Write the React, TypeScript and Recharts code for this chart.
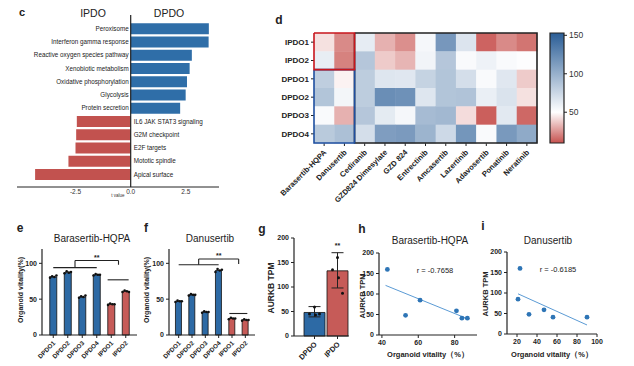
import React from "react";
import {
  Bar,
  BarChart,
  Cell,
  ComposedChart,
  ErrorBar,
  LabelList,
  ReferenceDot,
  ReferenceLine,
  Scatter,
  ScatterChart,
  XAxis,
  YAxis,
} from "recharts";

const FONT = '"Liberation Sans", Arial, Helvetica, sans-serif';
const BLUE = "#2D6AA5";
const RED = "#C65B58";
const INK = "#222";

// c: hallmark pathways, t value
const pathways = [
  "Peroxisome",
  "Interferon gamma response",
  "Reactive oxygen species pathway",
  "Xenobiotic metabolism",
  "Oxidative phosphorylation",
  "Glycolysis",
  "Protein secretion",
  "IL6 JAK STAT3 signaling",
  "G2M checkpoint",
  "E2F targets",
  "Mototic spindle",
  "Apical surface",
];
const tValues = [3.54, 3.53, 2.77, 2.67, 2.55, 2.49, 2.24, -2.44, -2.47, -2.5, -2.82, -4.33];
const tTicks = [-2.5, 0, 2.5];

// d: drug screen heatmap
const drugs = [
  "Barasertib-HQPA",
  "Danusertib",
  "Cediranib",
  "GZD824 Dimesylate",
  "GZD 824",
  "Entrectinib",
  "Amcasertib",
  "Lazertinib",
  "Adavosertib",
  "Ponatinib",
  "Neratinib",
];
const organoids = ["IPDO1", "IPDO2", "DPDO1", "DPDO2", "DPDO3", "DPDO4"];
const ipdo1 = [43, 23, 62, 32, 24, 55, 116, 67, 14, 23, 18];
const ipdo2 = [61, 21, 86, 38, 33, 57, 86, 53, 58, 53, 51];
const dpdo1 = [81, 47, 82, 66, 65, 78, 87, 71, 53, 65, 38];
const dpdo2 = [87, 56, 82, 122, 120, 66, 87, 88, 60, 68, 43];
const dpdo3 = [53, 32, 86, 63, 55, 93, 95, 42, 13, 64, 15];
const dpdo4 = [84, 90, 71, 112, 114, 98, 74, 117, 53, 115, 104];
const heatRows = [ipdo1, ipdo2, dpdo1, dpdo2, dpdo3, dpdo4];
const colorRange = [10, 153];
const colorMid = 50;
const colorTicks = [50, 100, 150];
// highlighted blocks: [first col, last col, first row, last row]
const otherBlock = [2, 10, 0, 5];
const dpdoBlock = [0, 1, 2, 5];
const ipdoBlock = [0, 1, 0, 1];

// e / f: organoid vitality
const lines = ["DPDO1", "DPDO2", "DPDO3", "DPDO4", "IPDO1", "IPDO2"];
const barasertibMean = [81, 87, 53, 84, 43, 61];
const barasertibReps = [
  [80, 82, 81, 83],
  [86, 89, 87, 88],
  [52, 54, 53, 55],
  [83, 85, 84, 84],
  [42, 44, 43, 43],
  [60, 62, 61, 60],
];
const danusertibMean = [47, 56, 32, 90, 23, 21];
const danusertibReps = [
  [46, 48, 47, 47],
  [55, 57, 56, 56],
  [31, 33, 32, 32],
  [88, 92, 90, 91],
  [22, 24, 23, 23],
  [20, 22, 21, 21],
];
const vitalityTicks = [0, 50, 100];

// g: AURKB expression
const groups = ["DPDO", "IPDO"];
const aurkbMean = [48, 133];
const aurkbErr = [[9, 12], [35, 37]];
const aurkbDpdo = [59, 45, 43, 45];
const aurkbIpdo = [160, 135, 119, 87];
const tpmTicks = [0, 50, 100, 150, 200];

// h / i: AURKB TPM per line (DPDO1-4, IPDO1-2)
const aurkbByLine = [59, 41, 48, 41, 160, 85];
const barasertibFit = [{ x: 42, y: 121 }, { x: 88, y: 38 }];
const danusertibFit = [{ x: 21, y: 98 }, { x: 90, y: 22 }];

function mix(a: number[], b: number[], t: number) {
  const c = a.map((v, i) => Math.round(v + (b[i] - v) * t));
  return `rgb(${c[0]},${c[1]},${c[2]})`;
}
const WHITE = [255, 255, 255];
const LOW = [199, 82, 79];
const HIGH = [42, 93, 150];
function heatColor(v: number) {
  if (v <= colorMid) return mix(WHITE, LOW, Math.min(1, (colorMid - v) / (colorMid - colorRange[0])));
  return mix(WHITE, HIGH, Math.min(1, (v - colorMid) / (colorRange[1] - colorMid)));
}

// outline of a block of cells, as a closed path in cell coordinates
function blockOutline(b: number[]) {
  const [c0, c1, r0, r1] = b;
  return [
    { c: c0 - 0.5, r: r0 - 0.5 },
    { c: c1 + 0.5, r: r0 - 0.5 },
    { c: c1 + 0.5, r: r1 + 0.5 },
    { c: c0 - 0.5, r: r1 + 0.5 },
    { c: c0 - 0.5, r: r0 - 0.5 },
  ];
}

const Txt = ({ x, y, size, bold, rotate, children }: any) => (
  <div
    style={{
      position: "absolute",
      left: x,
      top: y,
      transform: `translate(-50%, -50%)${rotate ? " rotate(-90deg)" : ""}`,
      fontSize: size,
      fontWeight: bold ? 700 : 400,
      color: INK,
      whiteSpace: "nowrap",
      lineHeight: 1,
    }}
  >
    {children}
  </div>
);

const boldTick = { fontSize: 7, fontWeight: 700, fill: INK };

function RotTick({ x, y, payload, labels, size, dx = 1, dy = 3 }: any) {
  const text = labels ? labels[payload.value] : payload.value;
  const ax = x + dx;
  const ay = y + dy;
  return (
    <text
      x={ax}
      y={ay}
      dy="0.35em"
      transform={`rotate(-45 ${ax} ${ay})`}
      textAnchor="end"
      fontSize={size}
      fontWeight={700}
      fill={INK}
    >
      {text}
    </text>
  );
}

function PathLabel(p: any) {
  const { x, y, width, height, index } = p;
  const v = tValues[index];
  const zeroX = v >= 0 ? Math.min(x, x + width) : Math.max(x, x + width);
  return (
    <text
      x={v >= 0 ? zeroX - 2 : zeroX + 3}
      y={y + height / 2}
      dy="0.35em"
      textAnchor={v >= 0 ? "end" : "start"}
      fontSize={6.3}
      fill={INK}
    >
      {pathways[index]}
    </text>
  );
}

function PathwayPanel() {
  const data = pathways.map((name, i) => ({ name, t: tValues[i] }));
  return (
    <div style={{ position: "absolute", left: 0, top: 0 }}>
      <BarChart
        width={230}
        height={205}
        data={data}
        layout="vertical"
        margin={{ top: 15, right: 11, left: 17, bottom: 4 }}
        barCategoryGap="9%"
      >
        <XAxis
          type="number"
          domain={[-5.15, 4]}
          ticks={tTicks}
          tickFormatter={(v) => Number(v).toFixed(1)}
          tickLine={false}
          tickSize={1}
          tickMargin={1}
          height={14}
          axisLine={{ stroke: INK }}
          tick={{ fontSize: 6.5, fill: "#333" }}
          label={{ value: "t value", position: "bottom", offset: -7, fontSize: 4.5, fill: "#333" }}
        />
        <YAxis type="category" dataKey="name" hide padding={{ top: 7, bottom: 6 }} />
        <Bar dataKey="t" isAnimationActive={false}>
          {data.map((d, i) => (
            <Cell key={i} fill={d.t >= 0 ? "#2F6EA8" : "#C2524F"} />
          ))}
          <LabelList dataKey="name" content={PathLabel} />
        </Bar>
        <ReferenceLine x={0} stroke={INK} strokeWidth={1.2} />
      </BarChart>
    </div>
  );
}

const CW = 223 / drugs.length;
const CH = 110 / organoids.length;

function HeatCell(p: any) {
  return (
    <rect
      x={p.cx - CW / 2}
      y={p.cy - CH / 2}
      width={CW + 0.4}
      height={CH + 0.4}
      fill={heatColor(p.payload.v)}
    />
  );
}

const noDot = () => <g />;

function HeatmapPanel() {
  const cells = heatRows.flatMap((row, r) => row.map((v, c) => ({ c, r, v })));
  const colorbar = [{ name: "scale", range: colorRange }];
  const midStop = (colorMid - colorRange[0]) / (colorRange[1] - colorRange[0]);
  return (
    <>
      <div style={{ position: "absolute", left: 258, top: 0 }}>
        <ScatterChart width={282} height={210} margin={{ top: 33, right: 3, left: 0, bottom: 2 }}>
          <XAxis
            type="number"
            dataKey="c"
            domain={[-0.5, drugs.length - 0.5]}
            ticks={drugs.map((_, i) => i)}
            interval={0}
            height={65}
            tickSize={3}
            axisLine={false}
            tickLine={{ stroke: INK }}
            tick={<RotTick labels={drugs} size={7.6} dx={1} dy={3} />}
          />
          <YAxis
            type="number"
            dataKey="r"
            domain={[-0.5, organoids.length - 0.5]}
            reversed
            ticks={organoids.map((_, i) => i)}
            interval={0}
            tickFormatter={(i) => organoids[i]}
            width={56}
            tickSize={3}
            axisLine={false}
            tickLine={{ stroke: INK }}
            tick={{ fontSize: 8, fontWeight: 700, fill: INK }}
          />
          <Scatter data={cells} shape={HeatCell} isAnimationActive={false} />
          <Scatter
            data={blockOutline(otherBlock)}
            line={{ stroke: INK, strokeWidth: 1.6 }}
            shape={noDot}
            isAnimationActive={false}
          />
          <Scatter
            data={blockOutline(dpdoBlock)}
            line={{ stroke: "#1F4FA0", strokeWidth: 1.6 }}
            shape={noDot}
            isAnimationActive={false}
          />
          <Scatter
            data={blockOutline(ipdoBlock)}
            line={{ stroke: "#C8161D", strokeWidth: 1.6 }}
            shape={noDot}
            isAnimationActive={false}
          />
        </ScatterChart>
      </div>
      <div style={{ position: "absolute", left: 540, top: 0 }}>
        <BarChart width={60} height={160} data={colorbar} margin={{ top: 33, right: 0, left: 10, bottom: 17 }} barCategoryGap={0}>
          <defs>
            <linearGradient id="heatGrad" x1="0" y1="1" x2="0" y2="0">
              <stop offset="0" stopColor={heatColor(colorRange[0])} />
              <stop offset={midStop} stopColor="#ffffff" />
              <stop offset="1" stopColor={heatColor(colorRange[1])} />
            </linearGradient>
          </defs>
          <XAxis dataKey="name" hide />
          <YAxis
            orientation="right"
            type="number"
            domain={colorRange}
            ticks={colorTicks}
            width={36}
            tickSize={3}
            axisLine={false}
            tickLine={{ stroke: INK }}
            tick={{ fontSize: 8.5, fill: "#333" }}
          />
          <Bar dataKey="range" fill="url(#heatGrad)" stroke={INK} strokeWidth={1.2} isAnimationActive={false} />
        </BarChart>
      </div>
    </>
  );
}

const repOffsets = [-3.2, -1.1, 1.1, 3.2];

function VitalityPanel({ means, reps, segs, star, left, width, yW, padX, plotRight }: any) {
  const data = lines.map((name, i) => ({
    name,
    idx: i,
    mean: means[i],
    r0: reps[i][0],
    r1: reps[i][1],
    r2: reps[i][2],
    r3: reps[i][3],
  }));
  return (
    <div style={{ position: "absolute", left, top: 225 }}>
      <ComposedChart
        width={width}
        height={141}
        data={data}
        margin={{ top: 24, right: width - (plotRight - left), left: 0, bottom: 3 }}
        barCategoryGap="26%"
      >
        <XAxis
          xAxisId="cat"
          dataKey="name"
          type="category"
          padding={{ left: padX, right: padX }}
          height={28}
          interval={0}
          tickSize={3}
          axisLine={{ stroke: INK, strokeWidth: 1.2 }}
          tickLine={{ stroke: INK }}
          tick={<RotTick size={6.3} dx={1} dy={2} />}
        />
        <XAxis xAxisId="num" dataKey="idx" type="number" domain={[-0.5, 5.5]} padding={{ left: padX, right: padX }} hide />
        <XAxis
          xAxisId="top"
          orientation="top"
          type="number"
          domain={[0, 1]}
          height={0}
          tick={false}
          tickLine={false}
          axisLine={{ stroke: INK, strokeWidth: 1.2 }}
        />
        <YAxis
          yAxisId="v"
          type="number"
          domain={[0, 120]}
          ticks={vitalityTicks}
          width={yW}
          tickSize={3}
          axisLine={{ stroke: INK, strokeWidth: 1.2 }}
          tickLine={{ stroke: INK }}
          tick={boldTick}
        />
        <YAxis
          yAxisId="frame"
          orientation="right"
          type="number"
          domain={[0, 1]}
          width={0}
          tick={false}
          tickLine={false}
          axisLine={{ stroke: INK, strokeWidth: 1.2 }}
        />
        <Bar xAxisId="cat" yAxisId="v" dataKey="mean" stroke="#111" strokeWidth={0.8} isAnimationActive={false}>
          {data.map((d, i) => (
            <Cell key={i} fill={d.name.startsWith("IPDO") ? RED : BLUE} />
          ))}
        </Bar>
        {["r0", "r1", "r2", "r3"].map((k, j) => (
          <Scatter
            key={k}
            xAxisId="num"
            yAxisId="v"
            dataKey={k}
            isAnimationActive={false}
            shape={(p: any) => <circle cx={p.cx + repOffsets[j]} cy={p.cy} r={1.3} fill="#111" />}
          />
        ))}
        {segs.map((s: number[], i: number) => (
          <ReferenceLine
            key={i}
            xAxisId="num"
            yAxisId="v"
            segment={[{ x: s[0], y: s[1] }, { x: s[2], y: s[3] }]}
            stroke={INK}
            strokeWidth={1.1}
          />
        ))}
        <ReferenceDot
          xAxisId="num"
          yAxisId="v"
          x={star[0]}
          y={star[1]}
          r={0}
          fill="none"
          stroke="none"
          label={{ value: "**", position: "center", fontSize: 7, fontWeight: 700, fill: INK }}
        />
      </ComposedChart>
    </div>
  );
}

const barasertibSegs = [
  [0, 94, 3, 94],
  [1.5, 104, 4.5, 104],
  [1.5, 104, 1.5, 94],
  [4.5, 104, 4.5, 98],
  [3.75, 77, 5.2, 77],
];
const danusertibSegs = [
  [0, 98, 3, 98],
  [1.5, 106, 4.5, 106],
  [1.5, 106, 1.5, 98],
  [4.5, 106, 4.5, 99],
  [3.8, 30, 5.15, 30],
];

const dotJitter = [0, -5, 1, 5];

function AurkbPanel() {
  const data = groups.map((name, i) => ({ name, idx: i, mean: aurkbMean[i], err: aurkbErr[i] }));
  const dots = [
    ...aurkbDpdo.map((v, j) => ({ idx: 0, v, j })),
    ...aurkbIpdo.map((v, j) => ({ idx: 1, v, j })),
  ];
  return (
    <div style={{ position: "absolute", left: 262, top: 220 }}>
      <ComposedChart width={95} height={146} data={data} margin={{ top: 18, right: 8, left: 0, bottom: 2 }}>
        <XAxis
          xAxisId="cat"
          dataKey="name"
          type="category"
          padding={{ left: 9, right: 0 }}
          height={28}
          interval={0}
          tickSize={3}
          axisLine={{ stroke: INK, strokeWidth: 1.2 }}
          tickLine={{ stroke: INK }}
          tick={<RotTick size={7.5} dx={1} dy={2} />}
        />
        <XAxis xAxisId="num" dataKey="idx" type="number" domain={[-0.5, 1.5]} padding={{ left: 9, right: 0 }} hide />
        <XAxis
          xAxisId="top"
          orientation="top"
          type="number"
          domain={[0, 1]}
          height={0}
          tick={false}
          tickLine={false}
          axisLine={{ stroke: INK, strokeWidth: 1.2 }}
        />
        <YAxis
          yAxisId="v"
          type="number"
          domain={[0, 200]}
          ticks={tpmTicks}
          width={32}
          tickSize={3}
          axisLine={{ stroke: INK, strokeWidth: 1.2 }}
          tickLine={{ stroke: INK }}
          tick={boldTick}
        />
        <YAxis
          yAxisId="frame"
          orientation="right"
          type="number"
          domain={[0, 1]}
          width={0}
          tick={false}
          tickLine={false}
          axisLine={{ stroke: INK, strokeWidth: 1.2 }}
        />
        <Bar xAxisId="cat" yAxisId="v" dataKey="mean" barSize={21} stroke="#111" strokeWidth={0.8} isAnimationActive={false}>
          {data.map((d, i) => (
            <Cell key={i} fill={i === 0 ? BLUE : RED} />
          ))}
          <ErrorBar dataKey="err" width={6} stroke={INK} strokeWidth={1} direction="y" />
        </Bar>
        <Scatter
          xAxisId="num"
          yAxisId="v"
          data={dots}
          dataKey="v"
          isAnimationActive={false}
          shape={(p: any) => <circle cx={p.cx + dotJitter[p.payload.j]} cy={p.cy} r={1.5} fill="#111" />}
        />
        <ReferenceDot
          xAxisId="num"
          yAxisId="v"
          x={1}
          y={184}
          r={0}
          fill="none"
          stroke="none"
          label={{ value: "**", position: "center", fontSize: 7, fontWeight: 700, fill: INK }}
        />
      </ComposedChart>
    </div>
  );
}

function CorrPanel({ vit, fit, domain, ticks, left, width, yW, right, top }: any) {
  const pts = lines.map((name, i) => ({ name, x: vit[i], y: aurkbByLine[i] }));
  return (
    <div style={{ position: "absolute", left, top: 230 }}>
      <ScatterChart width={width} height={136} margin={{ top, right, left: 0, bottom: 136 - top - 82 - 14 }}>
        <XAxis
          type="number"
          dataKey="x"
          domain={domain}
          ticks={ticks}
          height={14}
          tickSize={3}
          axisLine={{ stroke: INK, strokeWidth: 1.2 }}
          tickLine={{ stroke: INK }}
          tick={boldTick}
        />
        <YAxis
          type="number"
          dataKey="y"
          domain={[0, 200]}
          ticks={tpmTicks}
          width={yW}
          tickSize={3}
          axisLine={{ stroke: INK, strokeWidth: 1.2 }}
          tickLine={{ stroke: INK }}
          tick={boldTick}
        />
        <Scatter data={fit} line={{ stroke: "#5B9BD5", strokeWidth: 1 }} shape={noDot} isAnimationActive={false} />
        <Scatter data={pts} isAnimationActive={false} shape={(p: any) => <circle cx={p.cx} cy={p.cy} r={2.4} fill="#2E75B6" />} />
      </ScatterChart>
    </div>
  );
}

export default function App() {
  return (
    <div
      style={{
        position: "absolute",
        left: 0,
        top: 0,
        width: 634,
        height: 366,
        background: "#fff",
        overflow: "hidden",
        fontFamily: FONT,
      }}
    >
      <PathwayPanel />
      <HeatmapPanel />
      <VitalityPanel
        means={barasertibMean}
        reps={barasertibReps}
        segs={barasertibSegs}
        star={[3, 108]}
        left={0}
        width={145}
        yW={42}
        padX={4}
        plotRight={137}
      />
      <VitalityPanel
        means={danusertibMean}
        reps={danusertibReps}
        segs={danusertibSegs}
        star={[3, 111]}
        left={130}
        width={135}
        yW={39}
        padX={3}
        plotRight={255}
      />
      <AurkbPanel />
      <CorrPanel vit={barasertibMean} fit={barasertibFit} domain={[38.4, 92.3]} ticks={[40, 60, 80]} left={355} width={130} yW={24} right={8} top={23} />
      <CorrPanel vit={danusertibMean} fit={danusertibFit} domain={[10, 100]} ticks={[20, 40, 60, 80, 100]} left={482} width={125} yW={25} right={10} top={22} />

      <Txt x={22} y={12} size={11} bold>c</Txt>
      <Txt x={93} y={13} size={10.5}>IPDO</Txt>
      <Txt x={169} y={13} size={10.5}>DPDO</Txt>
      <Txt x={279} y={20} size={12} bold>d</Txt>
      <Txt x={20} y={228} size={12} bold>e</Txt>
      <Txt x={146} y={228} size={12} bold>f</Txt>
      <Txt x={262} y={229} size={12} bold>g</Txt>
      <Txt x={362} y={229} size={12} bold>h</Txt>
      <Txt x={483} y={226} size={12} bold>i</Txt>

      <Txt x={92} y={239} size={10}>Barasertib-HQPA</Txt>
      <Txt x={210} y={239} size={10}>Danusertib</Txt>
      <Txt x={430} y={241} size={10}>Barasertib-HQPA</Txt>
      <Txt x={548} y={241} size={10}>Danusertib</Txt>
      <Txt x={435} y={271} size={7.5}>r = -0.7658</Txt>
      <Txt x={558} y={270} size={7.5}>r = -0.6185</Txt>

      <Txt x={20} y={290} size={7} bold rotate>Organoid vitality(%)</Txt>
      <Txt x={146} y={290} size={7} bold rotate>Organoid vitality(%)</Txt>
      <Txt x={271} y={288} size={8.5} bold rotate>AURKB TPM</Txt>
      <Txt x={363} y={296} size={7.5} bold rotate>AURKB TPM</Txt>
      <Txt x={486} y={294} size={7.5} bold rotate>AURKB TPM</Txt>
      <Txt x={428} y={355} size={7.5} bold>Organoid vitality（%）</Txt>
      <Txt x={552} y={355} size={7.5} bold>Organoid vitality（%）</Txt>
    </div>
  );
}
